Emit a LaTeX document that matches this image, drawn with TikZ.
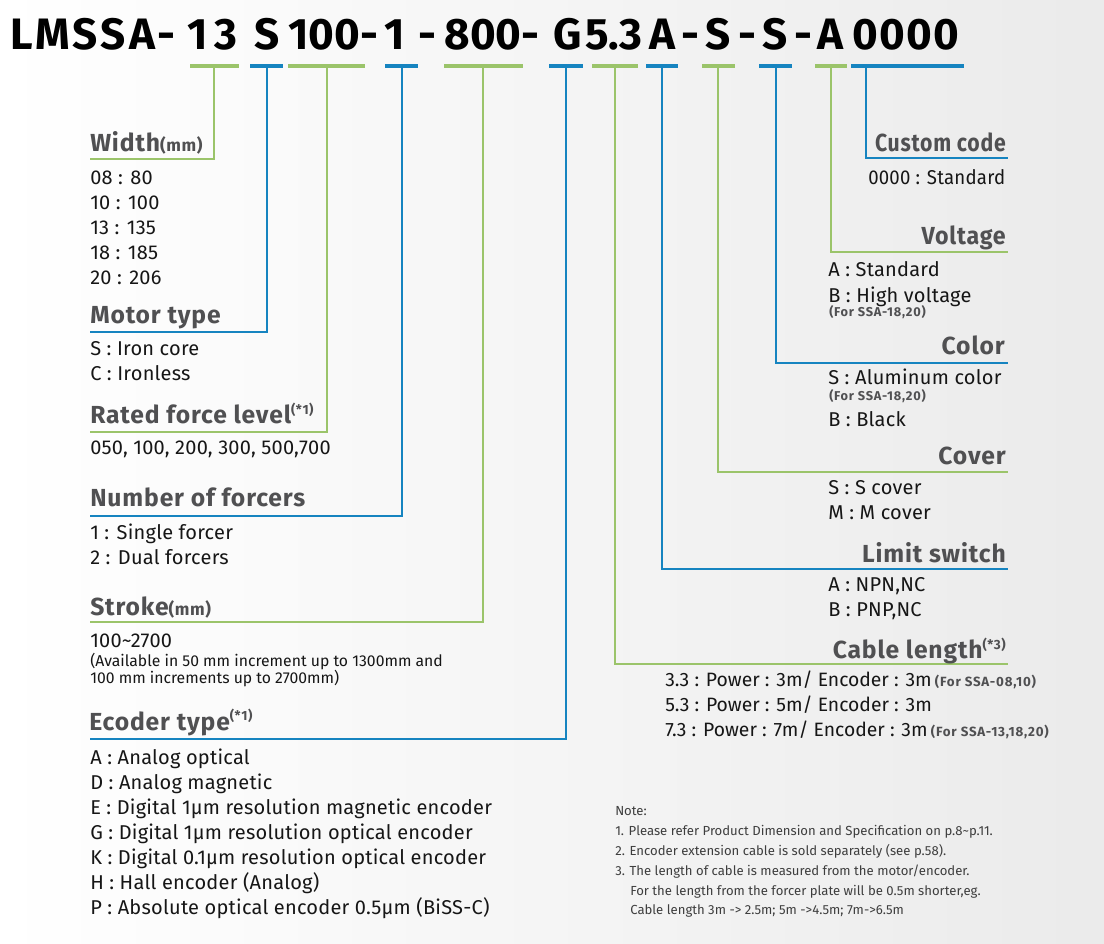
\documentclass[tikz,border=0pt]{standalone}
\usepackage{fontspec}
\setmainfont{Fira Sans}
\usetikzlibrary{calc}
\definecolor{lgreen}{RGB}{155,196,106}
\definecolor{lblue}{RGB}{22,132,192}
\definecolor{hgray}{RGB}{80,80,82}
\definecolor{txt}{RGB}{22,22,22}
\definecolor{notegray}{RGB}{62,62,62}
\tikzset{
  ttl/.style={font=\fontsize{33}{33}\selectfont\bfseries, text=black, inner sep=0pt, anchor=base},
  hdr/.style={font=\fontsize{18.5}{18.5}\selectfont\bfseries\addfontfeature{LetterSpace=3.5}, text=hgray, inner sep=0pt},
  hdrl/.style={hdr, anchor=base west},
  hdrr/.style={hdr, anchor=base east},
  body/.style={font=\fontsize{15}{15}\selectfont\addfontfeature{LetterSpace=1.2}, text=txt, inner sep=0pt, anchor=base west},
  cbody/.style={font=\fontsize{14.5}{14.5}\selectfont, text=txt, inner sep=0pt, anchor=base west},
  smallbody/.style={font=\fontsize{11.8}{11.8}\selectfont, text=txt, inner sep=0pt, anchor=base west},
  subnote/.style={font=\fontsize{9.6}{9.6}\selectfont\bfseries\addfontfeature{LetterSpace=6}, text=hgray, inner sep=0pt, anchor=base west},
  note/.style={font=\fontsize{9.85}{9.85}\selectfont, text=notegray, inner sep=0pt, anchor=base west},
  gbar/.style={line width=3pt, draw=lgreen},
  bbar/.style={line width=3pt, draw=lblue},
  glead/.style={line width=1.4pt, draw=lgreen},
  blead/.style={line width=1.4pt, draw=lblue},
}
\newcommand{\hsup}[1]{\raisebox{0.75ex}{\fontsize{10}{10}\selectfont #1}}
\newcommand{\hmm}{{\fontsize{13}{13}\selectfont(mm)}}
\newcommand{\fsub}[1]{{\fontsize{10}{10}\selectfont\bfseries\addfontfeature{LetterSpace=6}\color{hgray} #1}}
\begin{document}
\begin{tikzpicture}[x=0.75pt,y=-0.75pt]
\useasboundingbox (0,0) rectangle (1104,944);
\shade[left color=white, middle color=white, right color=black!8] (0,0) rectangle (1104,944);

% ---------- title ----------
\node[ttl, anchor=base west, font=\fontsize{33}{33}\selectfont\bfseries\addfontfeature{LetterSpace=7.5}] (tA) at (10,50) {LMSSA-};
\node[ttl] (t1a) at (198,50) {1};
\node[ttl] (t1b) at (226,50) {3};
\node[ttl] (t2) at (267,50) {S};
\node[ttl] (t3) at (324,50) {100};
\node[ttl] (t3h) at (369,50) {-};
\node[ttl] (t4) at (395,50) {1};
\node[ttl] (t4h) at (427,50) {-};
\node[ttl] (t5) at (483,50) {800};
\node[ttl] (t5h) at (530,50) {-};
\node[ttl] (t6) at (568,50) {G};
\node[ttl] (t7) at (614,50) {5.3};
\node[ttl] (t8) at (662,50) {A};
\node[ttl] (t8h) at (690,50) {-};
\node[ttl] (t9) at (718,50) {S};
\node[ttl] (t9h) at (747,50) {-};
\node[ttl] (t10) at (775,50) {S};
\node[ttl] (t10h) at (803,50) {-};
\node[ttl] (t11) at (830,50) {A};
\node[ttl, font=\fontsize{33}{33}\selectfont\bfseries\addfontfeature{LetterSpace=3}] (t12) at (906,50) {0000};

% ---------- bars under the code ----------
\coordinate (b1l) at (190,66);  \coordinate (b1r) at (239,66);
\coordinate (b2l) at (250,66);  \coordinate (b2r) at (283,66);
\coordinate (b3l) at (288,66);  \coordinate (b3r) at (365,66);
\coordinate (b4l) at (385,66);  \coordinate (b4r) at (418,66);
\coordinate (b5l) at (444,66);  \coordinate (b5r) at (523,66);
\coordinate (b6l) at (549,66);  \coordinate (b6r) at (583,66);
\coordinate (b7l) at (592,66);  \coordinate (b7r) at (638,66);
\coordinate (b8l) at (646,66);  \coordinate (b8r) at (678,66);
\coordinate (b9l) at (702,66);  \coordinate (b9r) at (735,66);
\coordinate (b10l) at (759,66); \coordinate (b10r) at (792,66);
\coordinate (b11l) at (815,66); \coordinate (b11r) at (847,66);
\coordinate (b12l) at (851,66); \coordinate (b12r) at (964,66);
\draw[gbar] (b1l) -- (b1r);
\draw[bbar] (b2l) -- (b2r);
\draw[gbar] (b3l) -- (b3r);
\draw[bbar] (b4l) -- (b4r);
\draw[gbar] (b5l) -- (b5r);
\draw[bbar] (b6l) -- (b6r);
\draw[gbar] (b7l) -- (b7r);
\draw[bbar] (b8l) -- (b8r);
\draw[gbar] (b9l) -- (b9r);
\draw[bbar] (b10l) -- (b10r);
\draw[gbar] (b11l) -- (b11r);
\draw[bbar] (b12l) -- (b12r);

% tick points
\coordinate (k1) at (214,66);
\coordinate (k2) at (267,66);
\coordinate (k3) at (327,66);
\coordinate (k4) at (402,66);
\coordinate (k5) at (483,66);
\coordinate (k6) at (566,66);
\coordinate (k7) at (615,66);
\coordinate (k8) at (662,66);
\coordinate (k9) at (718,66);
\coordinate (k10) at (776,66);
\coordinate (k11) at (831,66);
\coordinate (k12) at (866,66);

% underline ends
\coordinate (u1) at (90,159);
\coordinate (u2) at (90,332);
\coordinate (u3) at (90,432);
\coordinate (u4) at (90,516);
\coordinate (u5) at (90,622);
\coordinate (u6) at (90,739);
\coordinate (u12) at (1008,158);
\coordinate (u11) at (1008,252);
\coordinate (u10) at (1008,363);
\coordinate (u9) at (1008,472);
\coordinate (u8) at (1008,569);
\coordinate (u7) at (1008,664);

\draw[glead] (k1) |- (u1);
\draw[blead] (k2) |- (u2);
\draw[glead] (k3) |- (u3);
\draw[blead] (k4) |- (u4);
\draw[glead] (k5) |- (u5);
\draw[blead] (k6) |- (u6);
\draw[glead] (k7) |- (u7);
\draw[blead] (k8) |- (u8);
\draw[glead] (k9) |- (u9);
\draw[blead] (k10) |- (u10);
\draw[glead] (k11) |- (u11);
\draw[blead] (k12) |- (u12);

% ---------- left column ----------
\node[hdrl] (hW) at (90,152) {Width\hmm};
\node[body] (w1) at (90,185) {08 : 80};
\node[body] (w2) at (90,210) {10 : 100};
\node[body] (w3) at (90,235) {13 : 135};
\node[body] (w4) at (90,260) {18 : 185};
\node[body] (w5) at (90,285) {20 : 206};

\node[hdrl] (hM) at (90,324) {Motor type};
\node[body] (m1) at (90,356) {S : Iron core};
\node[body] (m2) at (90,381) {C : Ironless};

\node[hdrl] (hR) at (90,424) {Rated force level\hsup{(*1)}};
\node[body] (r1) at (90,455) {050, 100, 200, 300, 500,700};

\node[hdrl] (hN) at (90,507) {Number of forcers};
\node[body] (n1) at (90,540) {1 : Single forcer};
\node[body] (n2) at (90,565) {2 : Dual forcers};

\node[hdrl] (hS) at (90,616) {Stroke\hmm};
\node[body] (s1) at (90,648) {100\textasciitilde2700};
\node[smallbody] (s2) at (90,667) {(Available in 50 mm increment up to 1300mm and};
\node[smallbody] (s3) at (90,684) {100 mm increments up to 2700mm)};

\node[hdrl] (hE) at (89,730) {Ecoder type\hsup{(*1)}};
\node[body] (e1) at (90,764) {A : Analog optical};
\node[body] (e2) at (90,789) {D : Analog magnetic};
\node[body] (e3) at (90,814) {E : Digital 1μm resolution magnetic encoder};
\node[body] (e4) at (90,839) {G : Digital 1μm resolution optical encoder};
\node[body] (e5) at (90,864) {K : Digital 0.1μm resolution optical encoder};
\node[body] (e6) at (90,889) {H : Hall encoder (Analog)};
\node[body] (e7) at (90,914) {P : Absolute optical encoder 0.5μm (BiSS-C)};

% ---------- right column ----------
\node[hdrr] (hC) at (1006,152) {\scalebox{0.86}[1]{Custom code}};
\node[body] (c1) at (868,185) {\scalebox{0.93}[1]{0000 : Standard}};

\node[hdrr] (hV) at (1006,245) {\scalebox{0.94}[1]{Voltage}};
\node[body] (v1) at (828,277) {A : Standard};
\node[body] (v2) at (828,303) {B : High voltage};
\node[subnote] (v3) at (829,317) {(For SSA-18,20)};

\node[hdrr] (hCo) at (1005,355) {Color};
\node[body] (co1) at (828,385) {S : Aluminum color};
\node[subnote] (co2) at (829,401) {(For SSA-18,20)};
\node[body] (co3) at (828,427) {B : Black};

\node[hdrr] (hCv) at (1006,465) {Cover};
\node[body] (cv1) at (828,495) {S : S cover};
\node[body] (cv2) at (828,520) {M : M cover};

\node[hdrr] (hL) at (1006,563) {Limit switch};
\node[body] (l1) at (828,592) {A : NPN,NC};
\node[body] (l2) at (828,617) {B : PNP,NC};

\node[hdrr] (hCl) at (1006,659) {Cable length\hsup{(*3)}};
\node[cbody] (cl1) at (665,687) {3.3 : Power : 3m/ Encoder : 3m\,\fsub{(For SSA-08,10)}};
\node[cbody] (cl2) at (665,712) {5.3 : Power : 5m/ Encoder : 3m};
\node[cbody] (cl3) at (665,737) {7.3 : Power : 7m/ Encoder : 3m\,\fsub{(For SSA-13,18,20)}};

% ---------- notes ----------
\node[note] (nt0) at (615,815) {Note:};
\node[note] (nt1) at (615,835) {1. Please refer Product Dimension and Specification on p.8\textasciitilde p.11.};
\node[note] (nt2) at (615,855) {2. Encoder extension cable is sold separately (see p.58).};
\node[note] (nt3) at (615,875) {3. The length of cable is measured from the motor/encoder.};
\node[note] (nt4) at (630,895) {For the length from the forcer plate will be 0.5m shorter,eg.};
\node[note] (nt5) at (630,914) {Cable length 3m -> 2.5m; 5m ->4.5m; 7m->6.5m};
\end{tikzpicture}
\end{document}
